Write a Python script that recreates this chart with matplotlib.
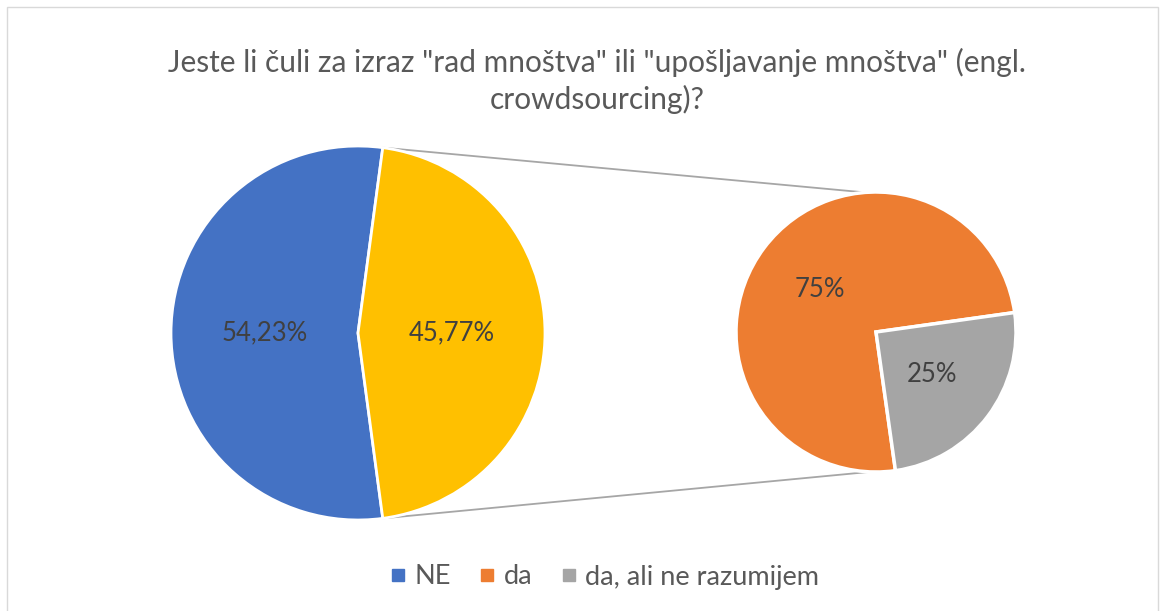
import math
import matplotlib.pyplot as plt
from matplotlib.lines import Line2D
from matplotlib.patches import Rectangle

plt.rcParams["font.family"] = ["Lato", "DejaVu Sans"]

title = 'Jeste li čuli za izraz "rad mnoštva" ili "upošljavanje mnoštva" (engl.\ncrowdsourcing)?'
main_labels = ["NE", "da"]
main_values = [54.23, 45.77]
sub_labels = ["da", "da, ali ne razumijem"]
sub_values = [75, 25]

blue = "#4472C4"
yellow = "#FFC000"
orange = "#ED7D31"
gray = "#A5A5A5"
text_col = "#595959"
label_col = "#404040"

W, H = 1165, 611
fig = plt.figure(figsize=(W / 100, H / 100), dpi=100)
ax = fig.add_axes([0, 0, 1, 1])

# chart border
ax.add_patch(Rectangle((7, -10), 1151, H - 7 + 10, fill=False,
                       edgecolor="#D9D9D9", linewidth=1))


def fmt(p):
    return f"{p:.2f}".replace(".", ",") + "%"


def put_labels(wedges, values, center, radius, to_text):
    for w, v in zip(wedges, values):
        th = math.radians((w.theta1 + w.theta2) / 2)
        x = center[0] + 0.5 * radius * math.cos(th)
        y = center[1] + 0.5 * radius * math.sin(th)
        ax.text(x, y, to_text(v), ha="center", va="center", fontsize=18.5, color=label_col)


# main pie, "da" share drawn on the right
c1, r1 = (358, H - 333), 187
start1 = main_values[1] / 100 * 180
w1 = ax.pie(main_values, colors=[blue, yellow], startangle=start1,
            center=c1, radius=r1,
            wedgeprops=dict(edgecolor="white", linewidth=2),
            frame=True)[0]
put_labels(w1, main_values, c1, r1, fmt)

# secondary pie (split of "da")
c2, r2 = (876, H - 332), 140
w2 = ax.pie(sub_values, colors=[orange, gray], startangle=8,
            center=c2, radius=r2,
            wedgeprops=dict(edgecolor="white", linewidth=2.5),
            frame=True)[0]
put_labels(w2, sub_values, c2, r2, lambda v: f"{v:.0f}%")

ax.set_xlim(0, W)
ax.set_ylim(0, H)
ax.set_aspect("equal")
ax.axis("off")

# connector lines
def on_circle(c, r, deg):
    return c[0] + r * math.cos(math.radians(deg)), c[1] + r * math.sin(math.radians(deg))

top1, bot1 = on_circle(c1, r1, start1), on_circle(c1, r1, -start1)
top2, bot2 = on_circle(c2, r2, 94.5), on_circle(c2, r2, -92.5)
ax.plot([top1[0], top2[0]], [top1[1], top2[1]], color="#A6A6A6", linewidth=1.3, zorder=0)
ax.plot([bot1[0], bot2[0]], [bot1[1], bot2[1]], color="#A6A6A6", linewidth=1.3, zorder=0)

ax.text(597, H - 81, title, ha="center", va="center", fontsize=21.5,
        color=text_col, linespacing=1.3)

handles = [Line2D([], [], marker="s", linestyle="none", markersize=8.5, color=c)
           for c in [blue, orange, gray]]
fig.legend(handles, ["NE", "da", "da, ali ne razumijem"], loc="center",
           bbox_to_anchor=(603 / W, 1 - 577 / H), ncol=3, frameon=False,
           fontsize=19.5, labelcolor=text_col, handletextpad=0.2, columnspacing=0.95,
           handlelength=0.8)

fig.savefig("out.png", dpi=100)
